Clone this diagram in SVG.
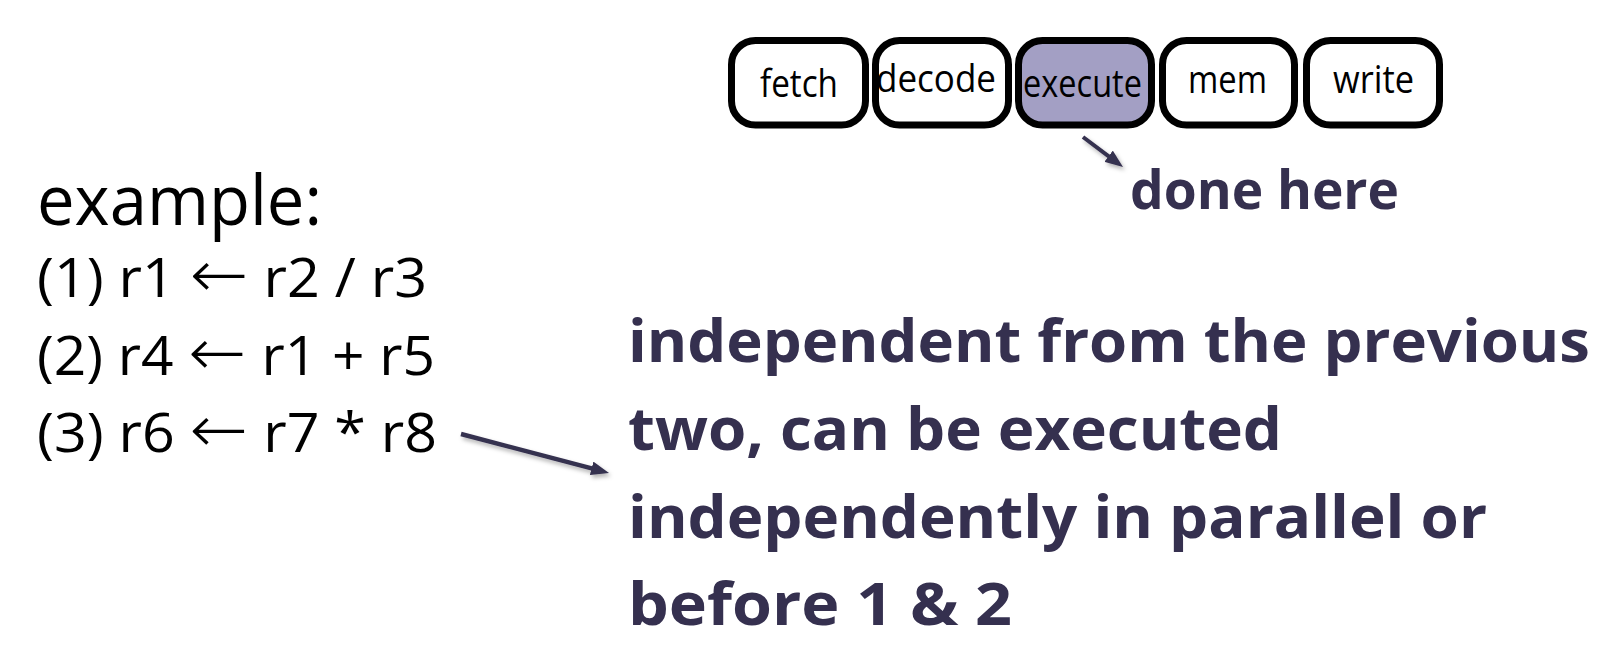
<svg xmlns="http://www.w3.org/2000/svg" width="1606" height="654" viewBox="0 0 1606 654">
  <style>
    .stage rect { fill: #ffffff; stroke: #000000; stroke-width: 7; }
    .stage.active rect { fill: #a39fc4; }
    .stage text { font-family: "Open Sans", "Liberation Sans", sans-serif; font-size: 39px; fill: #000000; }
    .plain { font-family: "Open Sans", "Liberation Sans", sans-serif; fill: #000000; }
    .arrow-sym { font-family: "DejaVu Sans", "Liberation Sans", sans-serif; font-size: 66px; font-weight: 200; }
    .note { font-family: "Open Sans", "Liberation Sans", sans-serif; font-weight: bold; fill: #35304f; }
    .link { stroke: #35304f; fill: none; stroke-linecap: butt; }
  </style>
  <defs>
    <marker id="head" markerUnits="userSpaceOnUse" markerWidth="18" markerHeight="14" refX="6" refY="7" orient="auto">
      <path d="M0,0 L18,7 L0,14 z" fill="#35304f"/>
    </marker>
    <filter id="soft" x="-20%" y="-50%" width="140%" height="200%">
      <feDropShadow dx="2" dy="3" stdDeviation="2" flood-color="#000000" flood-opacity="0.3"/>
    </filter>
  </defs>

  <!-- pipeline stages -->
  <g id="fetch" class="stage">
    <rect x="731.5" y="40.5" width="134" height="84.5" rx="24"/>
    <text x="760" y="97" textLength="78" lengthAdjust="spacingAndGlyphs">fetch</text>
  </g>
  <g id="decode" class="stage">
    <rect x="875.5" y="40.5" width="133" height="84.5" rx="24"/>
    <text x="876" y="92" textLength="120" lengthAdjust="spacingAndGlyphs">decode</text>
  </g>
  <g id="execute" class="stage active">
    <rect x="1018.5" y="40.5" width="133" height="84.5" rx="24"/>
    <text x="1023" y="97" textLength="119" lengthAdjust="spacingAndGlyphs">execute</text>
  </g>
  <g id="mem" class="stage">
    <rect x="1162.5" y="40.5" width="132" height="84.5" rx="24"/>
    <text x="1188" y="93" textLength="79" lengthAdjust="spacingAndGlyphs">mem</text>
  </g>
  <g id="write" class="stage">
    <rect x="1306.5" y="40.5" width="133" height="84.5" rx="24"/>
    <text x="1333" y="93" textLength="81" lengthAdjust="spacingAndGlyphs">write</text>
  </g>

  <!-- annotation under the execute stage -->
  <g id="done-here">
    <text class="note" x="1130" y="209" font-size="54" textLength="269" lengthAdjust="spacingAndGlyphs">done here</text>
  </g>

  <!-- instruction listing -->
  <g id="example">
    <text class="plain" x="37" y="225" font-size="70" textLength="285" lengthAdjust="spacingAndGlyphs">example:</text>
    <text class="plain" x="37" y="297" font-size="54" textLength="390" lengthAdjust="spacingAndGlyphs">(1) r1 <tspan class="arrow-sym">←</tspan> r2 / r3</text>
    <text class="plain" x="37" y="375" font-size="54" textLength="398" lengthAdjust="spacingAndGlyphs">(2) r4 <tspan class="arrow-sym">←</tspan> r1 + r5</text>
    <text class="plain" x="37" y="452" font-size="54" textLength="400" lengthAdjust="spacingAndGlyphs">(3) r6 <tspan class="arrow-sym">←</tspan> r7 * r8</text>
  </g>

  <!-- explanation of instruction 3 -->
  <g id="explanation" class="note" font-size="59">
    <text x="628" y="362" textLength="962" lengthAdjust="spacingAndGlyphs">independent from the previous</text>
    <text x="628" y="450" textLength="654" lengthAdjust="spacingAndGlyphs">two, can be executed</text>
    <text x="628" y="538" textLength="859" lengthAdjust="spacingAndGlyphs">independently in parallel or</text>
    <text x="628" y="625" textLength="384" lengthAdjust="spacingAndGlyphs">before 1 &amp; 2</text>
  </g>

  <!-- connectors -->
  <g id="connectors" filter="url(#soft)">
    <line class="link" x1="1083" y1="137" x2="1113.4" y2="159.8" stroke-width="4" marker-end="url(#head)"/>
    <line class="link" x1="461" y1="434" x2="597.4" y2="469.9" stroke-width="4.5" marker-end="url(#head)"/>
  </g>
</svg>
